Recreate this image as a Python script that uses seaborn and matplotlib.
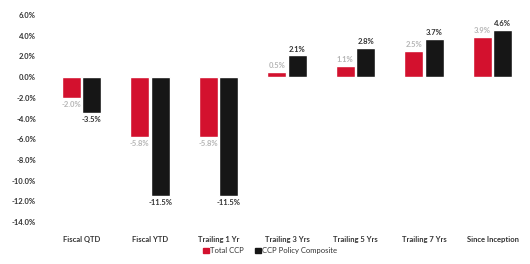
import matplotlib
matplotlib.use("Agg")
import matplotlib.pyplot as plt
import seaborn as sns
import pandas as pd
from matplotlib.patches import Patch

categories = ["Fiscal QTD", "Fiscal YTD", "Trailing 1 Yr", "Trailing 3 Yrs",
              "Trailing 5 Yrs", "Trailing 7 Yrs", "Since Inception"]
total_ccp = [-2.0, -5.8, -5.8, 0.5, 1.1, 2.5, 3.9]
policy_composite = [-3.5, -11.5, -11.5, 2.1, 2.8, 3.7, 4.6]
series_names = ["Total CCP", "CCP Policy Composite"]
yticks = [6, 4, 2, 0, -2, -4, -6, -8, -10, -12, -14]

df = pd.DataFrame({
    "cat": categories * 2,
    "val": total_ccp + policy_composite,
    "series": [series_names[0]] * 7 + [series_names[1]] * 7,
})

sns.set_theme(style="white")
plt.rcParams["font.family"] = ["Lato", "DejaVu Sans"]

colors = ["#d3112e", "#161616"]
fig = plt.figure(figsize=(5.3, 2.64), dpi=100)
ax = fig.add_axes([0.089, 0.159, 0.905, 0.784])
sns.barplot(data=df, x="cat", y="val", hue="series", palette=colors,
            width=0.6, gap=0.08, ax=ax, legend=False, saturation=1)

ax.set_ylim(-14, 6)
ax.set_xlim(-0.5, 6.5)
ax.set_yticks(yticks)
ax.set_yticklabels([f"{t:.1f}%" for t in yticks], fontsize=5.5, color="#333333", fontweight="bold")
ax.tick_params(axis="x", labelsize=5.5, labelcolor="#333333", pad=4)
for lbl in ax.get_xticklabels():
    lbl.set_fontweight("bold")
ax.tick_params(axis="y", pad=2)
ax.set_xlabel("")
ax.set_ylabel("")
for s in ax.spines.values():
    s.set_visible(False)

lab_colors = ["#b5b5b5", "#333333"]
for cont, lc in zip(ax.containers, lab_colors):
    ax.bar_label(cont, labels=[f"{v:.1f}%" for v in cont.datavalues],
                 fontsize=5.5, color=lc, padding=2, fontweight="bold")

handles = [Patch(color=c, label=n) for c, n in zip(colors, series_names)]
fig.legend(handles=handles, loc="center", bbox_to_anchor=(0.51, 0.05), ncol=2,
           frameon=False, fontsize=5.5, handlelength=0.7, handleheight=0.7,
           handletextpad=0.2, columnspacing=1.5, labelcolor="#333333")

fig.savefig("out.png", dpi=100)
